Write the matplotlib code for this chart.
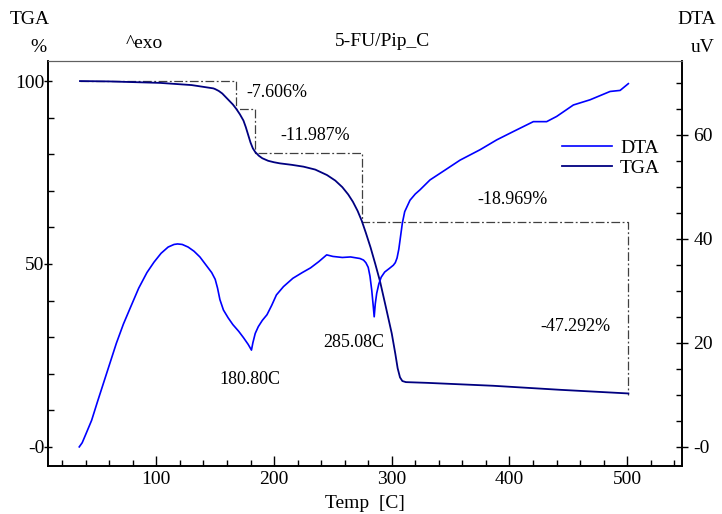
import numpy as np
import matplotlib.pyplot as plt
from matplotlib.ticker import MultipleLocator, FixedLocator, FixedFormatter

plt.rcParams["font.family"] = ["Liberation Serif", "DejaVu Serif"]

# TGA trace (weight %, left axis)
tga_temp = [35.1, 60.0, 103.1, 130.0, 148.4, 150.0, 153.0, 156.0, 159.0, 162.0, 165.0,
            167.9, 171.0, 174.0, 176.0, 178.0, 180.0, 182.0, 184.0, 187.0, 190.0,
            195.0, 200.0, 205.0, 215.0, 225.0, 235.0, 245.0, 252.0, 258.0, 263.0,
            267.0, 271.0, 274.5, 278.0, 282.0, 286.0, 290.0, 295.0, 300.0, 303.0,
            305.0, 307.0, 309.0, 312.0, 330.0, 386.3, 442.9, 501.0]
tga_pct = [100.0, 99.9, 99.5, 98.9, 98.0, 97.8, 97.3, 96.6, 95.6, 94.6, 93.6,
           92.4, 90.9, 89.2, 87.4, 85.3, 83.2, 81.6, 80.6, 79.6, 78.9,
           78.2, 77.8, 77.5, 77.1, 76.6, 75.8, 74.3, 72.8, 71.0, 69.0,
           67.0, 64.5, 61.8, 58.5, 54.5, 50.0, 45.3, 38.2, 31.0, 25.5,
           21.5, 19.0, 18.0, 17.7, 17.5, 16.7, 15.6, 14.6]

# DTA trace (uV, right axis)
dta_temp = [34.5, 37.0, 40.0, 45.0, 50.0, 55.0, 60.0, 66.0, 72.0, 78.0, 85.0,
            92.0, 98.0, 104.0, 110.0, 115.0, 118.0, 122.0, 127.0, 132.0, 137.0,
            142.0, 147.0, 150.0, 152.0, 154.0, 157.0, 161.0, 165.0, 170.0, 174.0,
            178.0, 180.8, 182.0, 184.0, 186.6, 190.0, 194.0, 198.0, 202.0, 208.0,
            216.0, 224.0, 231.0, 238.0, 244.7, 250.0, 258.0, 265.0, 273.0, 276.0,
            278.0, 280.0, 281.5, 283.0, 284.3, 285.08, 286.0, 287.2, 289.0, 291.0,
            294.0, 298.0, 301.3, 303.0, 304.5, 306.0, 307.5, 309.0, 311.0, 315.5,
            320.0, 324.0, 332.5, 345.3, 358.0, 375.0, 389.2, 403.3, 420.3, 431.6,
            440.1, 454.3, 468.5, 485.5, 494.0, 501.0]
dta_uv = [0.0, 0.8, 2.4, 5.1, 8.7, 12.2, 15.7, 19.9, 23.6, 26.8, 30.5,
          33.5, 35.5, 37.2, 38.4, 38.9, 39.0, 38.9, 38.4, 37.6, 36.5,
          35.0, 33.5, 32.2, 30.5, 28.3, 26.3, 24.8, 23.5, 22.2, 21.0,
          19.7, 18.6, 20.0, 21.8, 23.1, 24.3, 25.4, 27.2, 29.2, 30.8,
          32.4, 33.5, 34.4, 35.6, 36.9, 36.6, 36.4, 36.5, 36.2, 35.9,
          35.4, 34.5, 32.8, 30.1, 27.0, 25.0, 27.5, 29.5, 31.3, 32.6,
          33.6, 34.3, 34.9, 35.4, 36.3, 38.0, 40.5, 43.0, 45.2, 47.4,
          48.6, 49.4, 51.3, 53.2, 55.1, 57.1, 59.0, 60.6, 62.5, 62.5,
          63.5, 65.7, 66.7, 68.3, 68.5, 69.8]

# weight-loss steps: boundaries (C) and losses (%)
step_temp = [35.1, 167.9, 183.8, 274.5, 501.0]
step_loss = [7.606, 11.987, 18.969, 47.292]
step_labels = ["-7.606%", "-11.987%", "-18.969%", "-47.292%"]
step_label_pos = [(176.2, 96.9, "left"), (235.0, 85.0, "center"),
                  (402.2, 67.7, "center"), (456.3, 32.8, "center")]

peak_temp = [180.80, 285.08]
peak_label_pos = [(179.8, 18.4), (267.6, 28.4)]

tga_color = "#000080"
dta_color = "#0000ff"

fig = plt.figure(figsize=(7.22, 5.14), dpi=100)
ax = fig.add_axes([0.0669, 0.0936, 0.8782, 0.7882])
ax2 = ax.twinx()

ax.plot(tga_temp, tga_pct, color=tga_color, lw=1.3, zorder=3)
ax2.plot(dta_temp, dta_uv, color=dta_color, lw=1.2, zorder=3)

# stepped dash-dot guide for the weight losses
levels = [100.0]
for loss in step_loss:
    levels.append(levels[-1] - loss)
bx, by = [step_temp[0]], [levels[0]]
for i in range(len(step_loss)):
    bx += [step_temp[i + 1], step_temp[i + 1]]
    by += [levels[i], levels[i + 1]]
ax.plot(bx, by, color="#404040", lw=0.9, ls=(0, (7, 2, 1.5, 2)), zorder=2)

for (x, y, ha), txt in zip(step_label_pos, step_labels):
    ax.text(x, y, txt, ha=ha, va="center", fontsize=13)
for (x, y), t in zip(peak_label_pos, peak_temp):
    ax.text(x, y, "%.2fC" % t, ha="center", va="center", fontsize=13)

ax.set_xlim(8.2, 546.9)
ax.set_ylim(-5.2, 105.55)
ax2.set_ylim(-3.65, 74.2)

ax.xaxis.set_major_locator(MultipleLocator(100))
ax.xaxis.set_minor_locator(MultipleLocator(20))
ax.yaxis.set_major_locator(FixedLocator([0, 50, 100]))
ax.yaxis.set_major_formatter(FixedFormatter(["-0", "50", "100"]))
ax.yaxis.set_minor_locator(MultipleLocator(10))
ax2.yaxis.set_major_locator(FixedLocator([0, 20, 40, 60]))
ax2.yaxis.set_major_formatter(FixedFormatter(["-0", "20", "40", "60"]))
ax2.yaxis.set_minor_locator(MultipleLocator(5))

ax.tick_params(axis="x", which="major", direction="in", length=7, width=1, labelsize=14, pad=4)
ax.tick_params(axis="x", which="minor", direction="in", length=4, width=1)
ax.tick_params(axis="y", which="major", direction="inout", length=6, width=1, labelsize=14, pad=0)
ax.tick_params(axis="y", which="minor", direction="in", length=4, width=1)
ax2.tick_params(axis="y", which="major", direction="inout", length=8, width=1, labelsize=14, pad=4)
ax2.tick_params(axis="y", which="minor", direction="in", length=4, width=1)

for a in (ax, ax2):
    a.spines["top"].set_color("#606060")
    for s in ("left", "right", "bottom"):
        a.spines[s].set_linewidth(1.2)

ax.set_xlabel("Temp  [C]", fontsize=14, labelpad=5)

fig.text(30 / 722, 1 - 20 / 514, "TGA", ha="center", va="center", fontsize=14)
fig.text(38 / 722, 1 - 47 / 514, "%", ha="center", va="center", fontsize=14)
fig.text(697 / 722, 1 - 20 / 514, "DTA", ha="center", va="center", fontsize=14)
fig.text(703 / 722, 1 - 47 / 514, "uV", ha="center", va="center", fontsize=14)
fig.text(144 / 722, 1 - 44 / 514, "^exo", ha="center", va="center", fontsize=14)
fig.text(382 / 722, 1 - 42 / 514, "5-FU/Pip_C", ha="center", va="center", fontsize=14)

# legend lines, drawn without a frame
h1, = ax.plot([], [], color=dta_color, lw=1.2)
h2, = ax.plot([], [], color=tga_color, lw=1.3)
ax.legend([h1, h2], ["DTA", "TGA"], loc="center left", bbox_to_anchor=(0.8098, 0.7598),
          frameon=False, fontsize=14, handlelength=2.6, handletextpad=0.4,
          labelspacing=0.15, borderpad=0, borderaxespad=0)

fig.savefig("out.png", dpi=100)
